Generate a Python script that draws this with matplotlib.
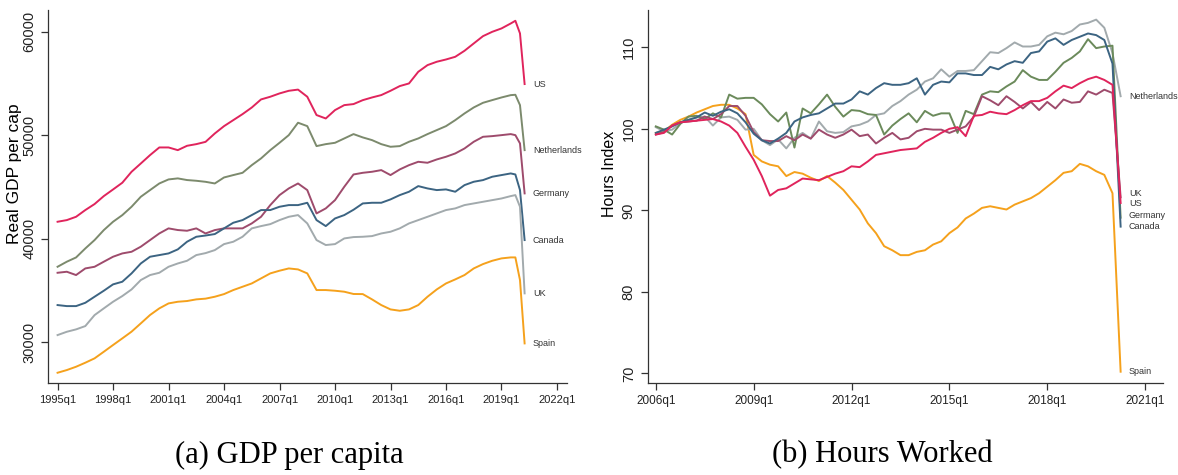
import matplotlib
matplotlib.use("Agg")
import matplotlib.pyplot as plt

plt.rcParams['font.family'] = ['Liberation Sans', 'DejaVu Sans']

# ---- panel (a): real GDP per capita, half-yearly to 2019, quarterly at the end
gdp_t = [1995 + 0.5 * i for i in range(50)] + [2019.75, 2020.0, 2020.25]

gdp_us = [41630, 41790, 42110, 42760, 43340, 44110, 44750, 45400, 46460, 47260,
          48070, 48810, 48810, 48550, 48970, 49130, 49350, 50160, 50870, 51450,
          52030, 52670, 53450, 53710, 54030, 54285, 54400, 53710, 51940, 51610,
          52420, 52900, 53000, 53380, 53640, 53870, 54285, 54740, 54995, 56120,
          56765, 57090, 57310, 57570, 58150, 58860, 59565, 59985, 60310, 60790,
          61050, 59830, 54935]
gdp_nl = [37280, 37770, 38180, 39050, 39860, 40825, 41630, 42270, 43080, 44045,
          44690, 45330, 45720, 45820, 45660, 45590, 45490, 45330, 45910, 46140,
          46360, 47100, 47750, 48550, 49260, 50000, 51200, 50870, 48940, 49130,
          49260, 49680, 50100, 49780, 49520, 49130, 48875, 48940, 49360, 49680,
          50100, 50485, 50870, 51450, 52095, 52675, 53125, 53385, 53640, 53865,
          53900, 52900, 48550]
gdp_de = [36700, 36800, 36480, 37120, 37280, 37770, 38250, 38570, 38730, 39220,
          39860, 40500, 40990, 40830, 40760, 40990, 40500, 40825, 40990, 40990,
          40990, 41470, 42110, 43240, 44205, 44850, 45330, 44690, 42435, 42920,
          43720, 45010, 46200, 46360, 46460, 46620, 46140, 46685, 47100, 47425,
          47330, 47650, 47910, 48230, 48710, 49360, 49840, 49905, 50000, 50100,
          50000, 49200, 44370]
gdp_ca = [33580, 33480, 33480, 33800, 34385, 34965, 35580, 35835, 36640, 37600,
          38250, 38410, 38570, 38960, 39700, 40180, 40300, 40440, 40990, 41535,
          41790, 42275, 42760, 42760, 43080, 43240, 43240, 43465, 41790, 41210,
          41950, 42275, 42790, 43400, 43465, 43465, 43790, 44205, 44530, 45075,
          44850, 44690, 44755, 44530, 45170, 45495, 45655, 45980, 46140, 46300,
          46200, 44690, 39860]
gdp_uk = [30680, 31000, 31230, 31550, 32610, 33260, 33900, 34450, 35090, 35995,
          36480, 36700, 37280, 37600, 37860, 38410, 38600, 38890, 39470, 39700,
          40180, 40990, 41210, 41400, 41790, 42110, 42275, 41470, 39860, 39380,
          39470, 40020, 40150, 40180, 40245, 40500, 40665, 40990, 41470, 41790,
          42110, 42435, 42760, 42920, 43240, 43400, 43560, 43720, 43880, 44110,
          44205, 43080, 34710]
gdp_es = [27040, 27300, 27620, 28010, 28430, 29070, 29720, 30360, 31010, 31810,
          32620, 33260, 33740, 33900, 33970, 34130, 34200, 34385, 34640, 35030,
          35350, 35670, 36155, 36640, 36900, 37120, 37025, 36640, 35030, 35030,
          34965, 34870, 34650, 34640, 34130, 33580, 33160, 33030, 33160, 33580,
          34385, 35090, 35670, 36060, 36480, 37120, 37540, 37860, 38090, 38185,
          38185, 35995, 29875]

# ---- panel (b): hours index, quarterly 2006q1-2020q2
hrs_t = [2006 + q / 4 for q in range(58)]

hrs_us = [99.3, 99.5, 100.4, 100.8, 100.9, 101.0, 101.1, 101.2, 100.9, 100.4,
          99.5, 97.8, 96.2, 94.2, 91.8, 92.5, 92.7, 93.3, 93.9, 93.8,
          93.7, 94.1, 94.5, 94.8, 95.4, 95.3, 96.0, 96.8, 97.0, 97.2,
          97.4, 97.5, 97.6, 98.4, 98.9, 99.5, 100.0, 100.2, 99.1, 101.6,
          101.7, 102.1, 101.9, 101.8, 102.3, 102.9, 103.4, 103.4, 103.8, 104.6,
          105.3, 105.0, 105.6, 106.1, 106.4, 106.0, 105.4, 90.9]
hrs_ca = [99.5, 99.9, 100.3, 100.8, 101.1, 101.4, 102.0, 101.6, 102.1, 102.4,
          101.9, 100.8, 99.4, 98.6, 98.2, 98.8, 99.5, 100.9, 101.4, 101.7,
          101.9, 102.5, 103.1, 103.1, 103.6, 104.6, 104.2, 105.0, 105.6, 105.4,
          105.4, 105.6, 106.2, 104.2, 105.4, 105.8, 105.7, 106.8, 106.8, 106.6,
          106.6, 107.6, 107.3, 107.9, 108.3, 108.1, 109.3, 109.5, 110.7, 111.1,
          110.3, 110.9, 111.3, 111.7, 111.5, 110.9, 108.0, 88.0]
hrs_nl = [100.2, 99.7, 99.9, 100.7, 101.1, 101.4, 101.5, 100.4, 101.4, 101.5,
          101.1, 99.9, 100.0, 98.6, 98.0, 98.7, 97.6, 98.9, 99.5, 98.8,
          100.9, 99.7, 99.5, 99.6, 100.3, 100.5, 100.9, 101.7, 101.9, 102.8,
          103.4, 104.2, 104.8, 105.8, 106.2, 107.3, 106.4, 107.1, 107.1, 107.2,
          108.3, 109.4, 109.3, 109.9, 110.6, 110.1, 110.1, 110.3, 111.35, 111.8,
          111.6, 112.0, 112.8, 113.0, 113.4, 112.4, 109.3, 104.0]
hrs_de = [100.3, 99.9, 99.3, 100.6, 101.5, 101.6, 101.2, 101.9, 101.4, 104.2,
          103.7, 103.8, 103.8, 103.0, 101.8, 100.9, 102.0, 97.7, 102.5, 101.9,
          103.0, 104.2, 102.7, 101.5, 102.3, 102.2, 101.8, 101.7, 99.3, 100.4,
          101.2, 101.9, 100.8, 102.2, 101.6, 101.9, 101.9, 99.5, 102.2, 101.8,
          104.2, 104.6, 104.5, 105.2, 105.8, 107.2, 106.4, 106.0, 106.0, 107.0,
          108.1, 108.7, 109.5, 111.0, 109.9, 110.1, 110.2, 89.1]
hrs_uk = [99.3, 99.6, 100.4, 100.8, 100.9, 101.0, 101.5, 101.2, 101.8, 102.8,
          102.8, 101.6, 99.6, 98.6, 98.5, 98.5, 99.1, 98.6, 99.3, 98.8,
          99.9, 99.3, 98.9, 99.3, 99.9, 99.1, 99.3, 98.2, 98.9, 99.5,
          98.7, 98.9, 99.7, 100.0, 99.9, 99.9, 99.5, 99.9, 100.3, 101.5,
          104.0, 103.5, 102.9, 104.0, 103.3, 102.5, 103.3, 102.3, 103.3, 102.5,
          103.6, 103.2, 103.3, 104.6, 104.2, 104.8, 104.4, 91.6]
hrs_es = [99.5, 99.7, 100.5, 101.1, 101.5, 102.0, 102.4, 102.8, 102.95, 102.95,
          102.5, 101.8, 96.8, 96.0, 95.6, 95.4, 94.2, 94.7, 94.5, 94.0,
          93.6, 94.2, 93.4, 92.5, 91.3, 90.1, 88.4, 87.2, 85.6, 85.1,
          84.5, 84.5, 84.9, 85.1, 85.8, 86.2, 87.2, 87.9, 89.0, 89.6,
          90.3, 90.5, 90.3, 90.1, 90.7, 91.1, 91.5, 92.1, 92.9, 93.7,
          94.6, 94.8, 95.7, 95.4, 94.8, 94.35, 92.1, 70.2]

RED = '#e0245c'
OLIVE = '#7c8a6d'
PLUM = '#9e4b6c'
STEEL = '#3c6482'
GREY = '#a2aaad'
ORANGE = '#f5a11c'
GREEN = '#6b8a5b'

AXCOL = '#333333'


def style_axis(ax):
    for s in ['top', 'right']:
        ax.spines[s].set_visible(False)
    for s in ['left', 'bottom']:
        ax.spines[s].set_color(AXCOL)
        ax.spines[s].set_linewidth(0.9)
    ax.tick_params(direction='out', length=5, width=0.9, color=AXCOL,
                   labelcolor='#222222')
    for lab in ax.get_yticklabels():
        lab.set_rotation(90)
        lab.set_va('center')


def end_label(ax, x, y, text, dy=0):
    ax.annotate(text, (x, y), xytext=(6, dy), textcoords='offset points',
                fontsize=6.5, color='#333333', va='center', ha='left',
                annotation_clip=False)


fig = plt.figure(figsize=(11.78, 4.75), dpi=100)

# panel (a)
ax1 = fig.add_axes([0.0407, 0.1937, 0.4406, 0.785])
series_a = [(gdp_us, RED, 'US'), (gdp_nl, OLIVE, 'Netherlands'),
            (gdp_de, PLUM, 'Germany'), (gdp_ca, STEEL, 'Canada'),
            (gdp_uk, GREY, 'UK'), (gdp_es, ORANGE, 'Spain')]
for vals, col, name in series_a:
    ax1.plot(gdp_t, vals, color=col, lw=1.4, solid_joinstyle='round')
    end_label(ax1, gdp_t[-1], vals[-1], name)
ax1.set_xlim(1994.48, 2022.54)
ax1.set_ylim(26050, 62080)
ax1.set_xticks(range(1995, 2023, 3))
ax1.set_xticklabels([f'{y}q1' for y in range(1995, 2023, 3)], fontsize=8)
ax1.set_yticks([30000, 40000, 50000, 60000])
ax1.set_yticklabels(['30000', '40000', '50000', '60000'], fontsize=10.5)
ax1.set_ylabel('Real GDP per cap', fontsize=12.5)
ax1.yaxis.set_label_coords(-0.05, 0.56)
style_axis(ax1)

# panel (b)
ax2 = fig.add_axes([0.5498, 0.1943, 0.4375, 0.785])
series_b = [(hrs_es, ORANGE, 'Spain'), (hrs_nl, GREY, 'Netherlands'),
            (hrs_de, GREEN, 'Germany'), (hrs_uk, PLUM, 'UK'),
            (hrs_ca, STEEL, 'Canada'), (hrs_us, RED, 'US')]
# small vertical nudges keep the clustered end labels readable
nudge = {'UK': 2.5, 'US': -0.5, 'Germany': 1.5, 'Canada': 0}
for vals, col, name in series_b:
    ax2.plot(hrs_t, vals, color=col, lw=1.4, solid_joinstyle='round')
    end_label(ax2, hrs_t[-1], vals[-1], name, nudge.get(name, 0))
ax2.set_xlim(2005.75, 2021.55)
ax2.set_ylim(68.85, 114.6)
ax2.set_xticks(range(2006, 2022, 3))
ax2.set_xticklabels([f'{y}q1' for y in range(2006, 2022, 3)], fontsize=8.5)
ax2.set_yticks([70, 80, 90, 100, 110])
ax2.set_yticklabels(['70', '80', '90', '100', '110'], fontsize=10.5)
ax2.set_ylabel('Hours Index', fontsize=11.5)
ax2.yaxis.set_label_coords(-0.06, 0.56)
style_axis(ax2)

fig.text(0.246, 0.042, '(a) GDP per capita', ha='center', va='center',
         fontsize=22, family='Liberation Serif')
fig.text(0.749, 0.042, '(b) Hours Worked', ha='center', va='center',
         fontsize=22, family='Liberation Serif')

fig.savefig('out.png', dpi=100, facecolor='white')
